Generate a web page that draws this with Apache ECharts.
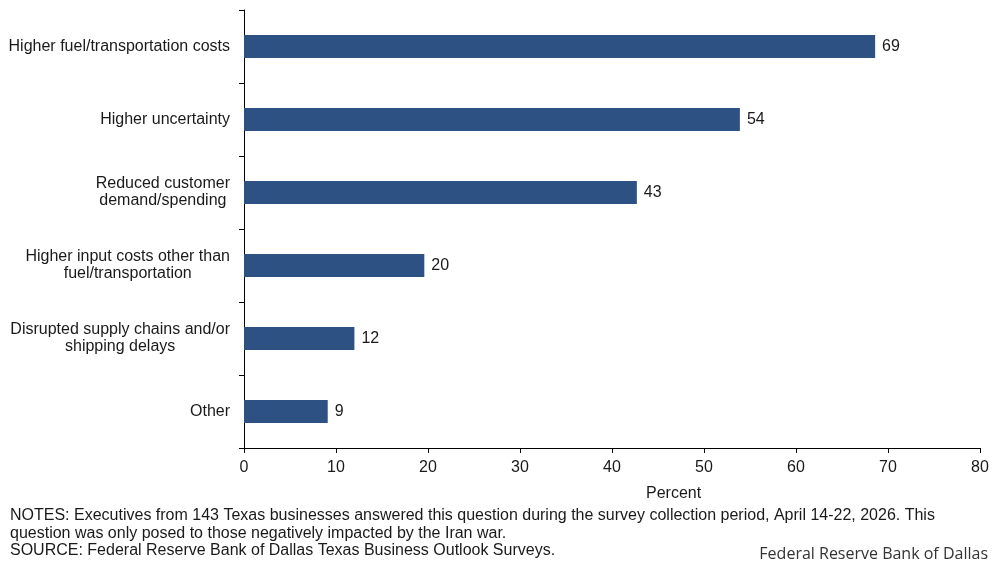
<!DOCTYPE html>
<html><head><meta charset="utf-8">
<script src="https://cdn.jsdelivr.net/npm/echarts@6/dist/echarts.min.js"></script>
<style>html,body{margin:0;padding:0;background:#fff}#c{width:997px;height:565px}</style>
</head><body><div id="c"></div>
<script>
const categories = [
  'Higher fuel/transportation costs',
  'Higher uncertainty',
  'Reduced customer\ndemand/spending',
  'Higher input costs other than\nfuel/transportation',
  'Disrupted supply chains and/or\nshipping delays',
  'Other'
];
const values = [68.6, 53.9, 42.7, 19.6, 12.0, 9.1];
const xTicks = [0, 10, 20, 30, 40, 50, 60, 70, 80];
const notes = [
  'NOTES: Executives from 143 Texas businesses answered this question during the survey collection period, April 14-22, 2026. This',
  'question was only posed to those negatively impacted by the Iran war.',
  'SOURCE: Federal Reserve Bank of Dallas Texas Business Outlook Surveys.'
];
const txt = '#1a1a1a';
const font = 'Liberation Sans, Arial, sans-serif';
const chart = echarts.init(document.getElementById('c'));
chart.setOption({
  animation: false,
  grid: {left: 244, right: 17, top: 10, bottom: 117, containLabel: false},
  xAxis: {
    type: 'value', min: xTicks[0], max: xTicks[xTicks.length-1], interval: 10,
    axisLine: {show: true, lineStyle: {color: '#000', width: 1}},
    axisTick: {show: true, length: 5, lineStyle: {color: '#000'}},
    splitLine: {show: false},
    axisLabel: {color: txt, fontFamily: font, fontSize: 16, margin: 12}
  },
  yAxis: {
    type: 'category', data: categories, inverse: true,
    axisLine: {show: true, lineStyle: {color: '#000', width: 1}},
    axisTick: {show: true, length: 5, lineStyle: {color: '#000'}},
    axisLabel: {
      color: txt, fontFamily: font, fontSize: 16, margin: 14, lineHeight: 17, align: 'right',
      formatter: v => v.split('\n').map(s => '{c|' + s + '}').join('\n'),
      rich: {c: {align: 'center', color: txt, fontFamily: font, fontSize: 16, lineHeight: 17}}
    }
  },
  series: [{
    type: 'bar', data: values, barWidth: 23,
    itemStyle: {color: '#2d5182'},
    label: {show: true, position: 'right', distance: 7, color: txt, fontFamily: font, fontSize: 16,
      formatter: p => Math.round(p.value)}
  }],
  graphic: [
    {type: 'text', left: 646, top: 486, style: {text: 'Percent', fill: txt, font: '16px ' + font}},
    {type: 'text', left: 10, top: 507, style: {text: notes.join('\n'), fill: txt, font: '16px ' + font, lineHeight: 17.5}},
    {type: 'text', right: 9, top: 546, style: {text: 'Federal Reserve Bank of Dallas', fill: '#333', font: '16px Open Sans, Lato, sans-serif'}}
  ]
});
</script></body></html>
